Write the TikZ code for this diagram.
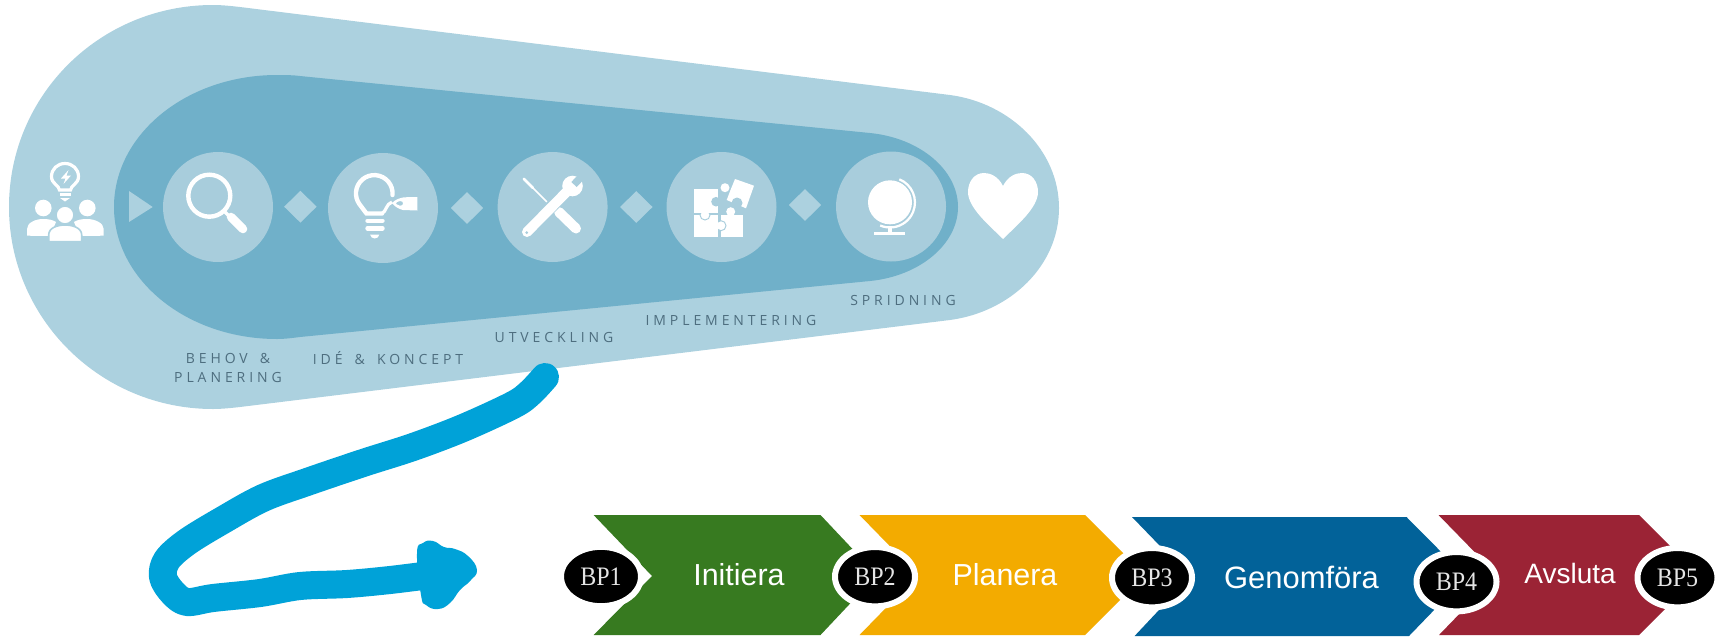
\documentclass[tikz,border=0pt]{standalone}
\usepackage{fontspec}
\usepackage{xcolor}
\usetikzlibrary{shapes, positioning}
\setmainfont{Liberation Sans}
\newfontfamily\stagefont[LetterSpace=28, WordSpace=1.6]{Open Sans}
\newfontfamily\gatefont[FakeStretch=.9]{Liberation Serif}
\definecolor{outerblue}{HTML}{ACD1DF}
\definecolor{innerblue}{HTML}{70B0C9}
\definecolor{discblue}{HTML}{A8CDDC}
\definecolor{captiongray}{HTML}{4E6E7F}
\definecolor{strokeblue}{HTML}{00A2D8}
\definecolor{phasegreen}{HTML}{377A20}
\definecolor{phaseyellow}{HTML}{F3AB00}
\definecolor{phaseblue}{HTML}{026299}
\definecolor{phasered}{HTML}{9B2335}

\begin{document}
\begin{tikzpicture}[
            x=0.75pt, y=-0.75pt,
            disc/.style={circle, fill=discblue, inner sep=0pt, minimum size=82.5pt},
            gem/.style={diamond, fill=outerblue, inner sep=0pt, minimum width=24.5pt, minimum height=24pt},
            caption/.style={text=captiongray, font=\stagefont\fontsize{10.5}{14.25}\selectfont, align=center, inner sep=0pt},
            phase/.style={text=white, font=\fontsize{22.8}{26}\selectfont, inner sep=0pt},
            gate/.style={ellipse, fill=black, draw=white, line width=4.5pt, inner sep=0pt, minimum width=60pt, minimum height=44.5pt, text=white!90!black, font=\gatefont\fontsize{20}{22}\selectfont},
            icon/.style={draw=white, line width=3.3pt},
        ]
            \useasboundingbox (0,0) rectangle (1723,636);
            \fill[outerblue] (240,7) -- (950,95) .. controls (1010,103) and (1059,150) .. (1059,208)
                .. controls (1059,266) and (1010,312) .. (950,320) -- (240,407)
                .. controls (231,408) and (222,409) .. (213,409) .. controls (100,409) and (9,318) .. (9,207)
                .. controls (9,95) and (100,5) .. (213,5) .. controls (222,5) and (231,6) .. (240,7) -- cycle;
            \fill[innerblue] (300,76) -- (870,133) .. controls (920,138) and (958,170) .. (958,207)
                .. controls (958,244) and (920,276) .. (870,281) -- (300,337)
                .. controls (292,338) and (285,339) .. (277,339) .. controls (187,339) and (114,280) .. (114,207)
                .. controls (114,134) and (187,75) .. (277,75) .. controls (285,75) and (292,75) .. (300,76) -- cycle;

            \node[disc] (behov) at (218,207) {};
            \node[disc] (koncept) at (383,208) {};
            \node[disc] (utveckling) at (552.6,207) {};
            \node[disc] (implementering) at (721.5,207) {};
            \node[disc] (spridning) at (891,206.5) {};
            \node[gem] (gem1) at (300.4,206.7) {};
            \node[gem] (gem2) at (467,208) {};
            \node[gem] (gem3) at (636.3,207) {};
            \node[gem] (gem4) at (805,205) {};
            \fill[outerblue] (129,191) -- (152.7,207) -- (129,222) -- cycle;

            \node[caption] (behovtext) at (228,367.5) {BEHOV \&\\PLANERING};
            \node[caption] (koncepttext) at (388,358.5) {IDÉ \& KONCEPT};
            \node[caption] (utvecklingtext) at (554,337.5) {UTVECKLING};
            \node[caption] (implementeringtext) at (731,320) {IMPLEMENTERING};
            \node[caption] (spridningtext) at (903,300.5) {SPRIDNING};

            \draw[icon, line width=2.4pt] (59.5,190) .. controls (59,185) and (51.5,184) .. (51.5,176.5)
                .. controls (51.5,169) and (57.5,163.5) .. (65,163.5) .. controls (72.5,163.5) and (78.5,169) .. (78.5,176.5)
                .. controls (78.5,184) and (71,185) .. (70.5,190) -- cycle;
            \fill[white] (68.5,170) -- (61,178.5) -- (65.5,178.5) -- (63.5,184) -- (71,175.5) -- (66.5,175.5) -- cycle;
            \draw[icon, line width=1.6pt] (59.5,194.5) -- (70.5,194.5);
            \fill[white] (60,198) -- (70,198) -- (65,201.5) -- cycle;
            \fill[white] (43.3,208) circle (8.3) (87.3,208) circle (8.3);
            \fill[white] (27,235.7) -- (27,229) .. controls (27,223) and (35,219) .. (43,219) .. controls (49,219) and (53,220) .. (56,222) -- (50,236) -- cycle;
            \fill[white] (103.7,235.7) -- (103.7,229) .. controls (103.7,223) and (95,219) .. (87,219) .. controls (81,219) and (77,220) .. (74,222) -- (80,236) -- cycle;
            \fill[white, draw=outerblue, line width=1.2pt] (65,215) circle (9);
            \fill[white, draw=outerblue, line width=1.2pt] (48.7,241.7) -- (48.7,235) .. controls (48.7,228) and (57,225) .. (65,225) .. controls (73,225) and (81.7,228) .. (81.7,235) -- (81.7,241.7) -- cycle;

            \draw[icon] (209.3,195.7) circle (21);
            \draw[icon, line width=2.5pt] (225,212) -- (231,218);
            \draw[icon, line width=6.4pt, line cap=round] (231,217) -- (243,229);

            \draw[icon, line cap=round] (392.5,195) arc[start angle=5, end angle=-215, radius=18.3] -- (366.5,213.5) -- (382,213.5);
            \draw[icon, line width=2.4pt] (382,213.5) .. controls (386,212) and (386,204) .. (392,202);
            \fill[white, even odd rule] (392,203) .. controls (396,199) and (400,198) .. (404,197.3) -- (417.3,197) -- (417.3,210.5) -- (403,210) .. controls (399,209) and (395,207) .. (392,203) -- cycle
                (400,201) .. controls (397,201) and (396,203) .. (396,204) .. controls (398,206) and (402,206.5) .. (403,204) .. controls (403.5,202) and (402,201) .. (400,201) -- cycle;
            \draw[icon, line cap=round] (367.5,220.7) -- (382.5,220.7);
            \draw[icon, line cap=round] (367.5,228.3) -- (382.5,228.3);
            \fill[white] (370,234.5) -- (379.3,234.5) .. controls (379,237) and (377,238.5) .. (374.7,238.5) .. controls (372.5,238.5) and (370.5,237) .. (370,234.5) -- cycle;

            \draw[icon, line width=2pt, line cap=round] (523.8,178.8) -- (533,188);
            \draw[icon, line width=1.3pt] (533,188) -- (547,202);
            \draw[icon, line width=7.5pt, line cap=round] (559,212) -- (576,228.5);
            \draw[draw=discblue, line width=9.5pt] (530,228) -- (565,193);
            \draw[icon, line width=7.5pt, line cap=round] (527,232) -- (566,192.5);
            \fill[white] (572.5,186) circle (10.3);
            \draw[draw=discblue, line width=5.5pt] (574,184.5) -- (585,173);
            \fill[discblue] (526.7,232.7) circle (1.5);

            \fill[white] (720.7,215) rectangle (742.7,236.7);
            \fill[white] (730.7,211.7) circle (4.5);
            \draw[draw=discblue, line width=.7pt, fill=white] (721,225.7) circle (5);
            \fill[white] (694,215) rectangle (718.3,236.7);
            \draw[draw=discblue, line width=.7pt, fill=white] (705,215) circle (5);
            \fill[white] (694,189) rectangle (718.3,213.3);
            \fill[discblue] (716,201.7) circle (4.8);
            \fill[white] (735,179) -- (754,185.7) -- (746,208.3) -- (726.7,200) -- (730.5,190) -- cycle;
            \fill[white] (725,187.7) circle (4.5);
            \fill[discblue] (737,203) circle (5.5);

            \fill[white] (890,202.3) circle (22);
            \draw[icon, line width=1.7pt] (899.3,179.3) arc[start angle=-68, end angle=113, radius=25];
            \draw[icon, line width=3pt] (890,226) -- (890,232);
            \fill[white] (874,231.7) rectangle (905,235);

            \fill[white] (1003,186) .. controls (998,176) and (990,173) .. (984,173) .. controls (974,173) and (968,182) .. (968,192)
                .. controls (968,208) and (990,226) .. (1003,239) .. controls (1016,226) and (1038,208) .. (1038,192)
                .. controls (1038,182) and (1032,173) .. (1022,173) .. controls (1016,173) and (1008,176) .. (1003,186) -- cycle;

            \coordinate (strokestart) at (545,377);
            \coordinate (strokeend) at (430,575);
            \draw[draw=strokeblue, line width=21pt, line cap=round, line join=round] plot[smooth, tension=.55] coordinates {
                (strokestart) (530,393) (513,405) (463,428) (413,447) (363,463) (307,482) (263,498) (223,520)
                (187,542) (167,560) (163,577) (173,593) (187,602) (213,598) (260,593) (300,586) (347,584) (390,580) (strokeend)};
            \fill[strokeblue] plot[smooth cycle, tension=.8] coordinates {
                (417,553) (423,543) (433,541) (444,547) (455,549) (468,556) (477,570) (470,581) (460,590) (450,603) (438,609) (426,605) (421,595)};

            \fill[phasegreen] (593.6,515) -- (820.5,515) -- (877,575) -- (820.5,635) -- (593.6,635) -- (652,576) -- cycle;
            \fill[phaseyellow] (859.5,515) -- (1085,515) -- (1145,575) -- (1085,635) -- (859.5,635) -- (918,575) -- cycle;
            \fill[phaseblue] (1132,517) -- (1406.5,517) -- (1466,577) -- (1409,636) -- (1134.6,636) -- (1190,577) -- cycle;
            \fill[phasered] (1438.5,515) -- (1639,515) -- (1699,575) -- (1639,635) -- (1439,635) -- (1497,575) -- cycle;

            \node[phase] (initiera) at (739,575) {Initiera};
            \node[phase] (planera) at (1005,575) {Planera};
            \node[phase, font=\fontsize{23.2}{26}\selectfont] (genomfora) at (1301.5,577) {Genomföra};
            \node[phase, font=\fontsize{21}{26}\selectfont] (avsluta) at (1570,573) {Avsluta};

            \node[gate] (bp1) at (601,576.5) {BP1};
            \node[gate] (bp2) at (875,576.7) {BP2};
            \node[gate] (bp3) at (1152,577.7) {BP3};
            \node[gate] (bp4) at (1456.5,581.7) {BP4};
            \node[gate] (bp5) at (1677.5,577.7) {BP5};
        \end{tikzpicture}
\end{document}
